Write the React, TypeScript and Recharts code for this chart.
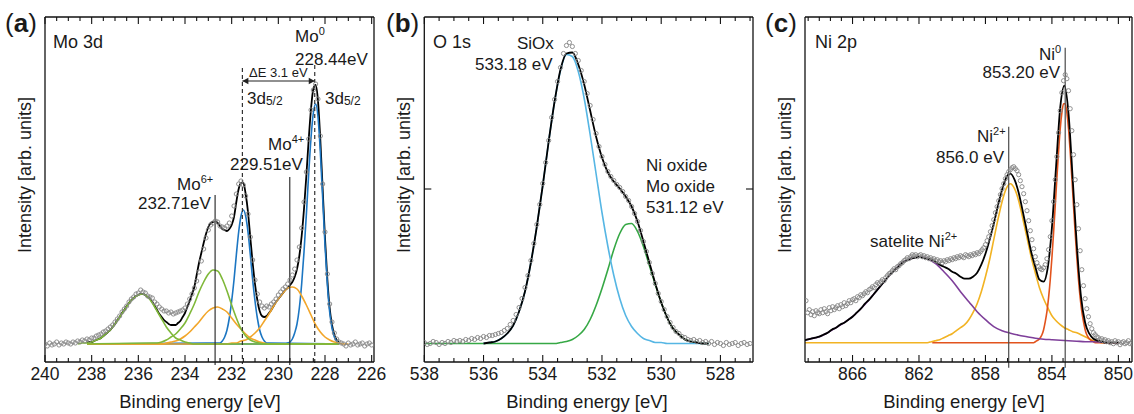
import React from "react";
import { ComposedChart, Line, Scatter, XAxis, YAxis, ReferenceLine } from "recharts";

const FONT = '"Liberation Sans", Arial, Helvetica, sans-serif';
const INK = "#1a1a1a";
const AXIS = "#111";
const DOT = "#858585";

type Pt = { e: number; v: number };

// values sampled from `start` downwards every `step` eV; `span` pads the flat baseline
const series = (start: number, step: number, values: number[], span?: [number, number]): Pt[] => {
  const pts = values.map((v, i) => ({ e: Math.round((start - i * step) * 1000) / 1000, v }));
  if (span) {
    if (span[0] > pts[0].e) pts.unshift({ e: span[0], v: 0 });
    if (span[1] < pts[pts.length - 1].e) pts.push({ e: span[1], v: 0 });
  }
  return pts;
};

// ---------- (a) Mo 3d ----------
const moTicks = [240, 239.5, 239, 238.5, 238, 237.5, 237, 236.5, 236, 235.5, 235, 234.5, 234, 233.5, 233, 232.5, 232, 231.5, 231, 230.5, 230, 229.5, 229, 228.5, 228, 227.5, 227, 226.5, 226];
const moMajors = [240, 238, 236, 234, 232, 230, 228, 226];
const moSpan: [number, number] = [238.2, 227.4];
const moMeasured = [
  0, -2, 1, -1, 0, 2, -1, 1, 0, 2,
  1, 0, 2, 1, 3, 2, 4, 3, 5, 4,
  6, 6, 8, 9, 10, 12, 13, 15, 17, 19,
  22, 25, 28, 32, 35, 38, 42, 45, 47, 50,
  51, 54, 52, 51, 48, 47, 46, 42, 40, 37,
  35, 33, 33, 31, 32, 30, 31, 32, 33, 34,
  36, 40, 45, 50, 56, 63, 72, 83, 95, 106,
  114, 119, 121, 123, 122, 118, 117, 116, 118, 121,
  128, 138, 150, 160, 163, 159, 148, 130, 107, 84,
  64, 50, 42, 38, 36, 38, 37, 40, 42, 45,
  49, 52, 55, 57, 60, 64, 69, 75, 84, 97,
  116, 142, 172, 205, 234, 254, 260, 245, 208, 160,
  112, 70, 40, 22, 11, 5, 2, 1, 0, -2,
  1, -1, 0, 2, -1, 0, 1, -2, 0, 1, -1,
];
const moEnvelope = [
  1, 2, 2, 3, 4, 5, 6, 8, 10, 12, 14, 17, 20, 24, 27, 31, 34, 38, 41, 44,
  46, 48, 49, 50, 50, 49, 47, 45, 42, 38, 34, 30, 27, 24, 22, 20, 19, 19, 19, 21,
  23, 27, 31, 37, 43, 50, 57, 69, 81, 91, 101, 110, 117, 121, 122, 122, 121, 118, 115, 114,
  113, 115, 119, 127, 142, 155, 161, 161, 150, 132, 106, 81, 60, 44, 33, 28, 27, 28, 31, 34,
  38, 42, 45, 48, 51, 54, 56, 59, 62, 67, 75, 88, 108, 135, 168, 204, 235, 255, 259, 243,
  204, 155, 106, 65, 36, 19, 9, 4, 2,
];
const moVI_a = [0, 1, 1, 2, 4, 6, 10, 14, 20, 27, 34, 41, 46, 49, 50, 47, 41, 33, 25, 17, 11, 6, 4, 2, 1, 0];
const moVI_b = [1, 1, 2, 4, 7, 10, 15, 21, 30, 40, 52, 62, 70, 74, 73, 65, 53, 39, 26, 15, 8, 4, 2, 1, 0, 0];
const moIV_a = [0, 0, 0, 1, 2, 3, 5, 8, 12, 17, 22, 28, 33, 36, 37, 35, 32, 26, 20, 15, 10, 6, 4, 2, 1, 0, 0];
const moIV_b = [0, 1, 1, 3, 4, 7, 11, 16, 23, 30, 38, 45, 51, 56, 57, 55, 48, 39, 29, 19, 12, 7, 4, 2, 1, 0, 0];
const mo0_a = [1, 1, 3, 7, 14, 26, 43, 64, 89, 112, 128, 134, 128, 112, 89, 64, 43, 26, 14, 7, 3, 1, 1];
const mo0_b = [0, 1, 2, 5, 11, 20, 36, 60, 92, 129, 170, 206, 231, 240, 227, 192, 146, 99, 60, 32, 16, 7, 3, 1];

// ---------- (b) O 1s ----------
const oTicks = [538, 537.5, 537, 536.5, 536, 535.5, 535, 534.5, 534, 533.5, 533, 532.5, 532, 531.5, 531, 530.5, 530, 529.5, 529, 528.5, 528, 527.5, 527];
const oMajors = [538, 536, 534, 532, 530, 528];
const oMeasured = [
  1, -1, 0, 2, 1, -1, 1, 0, 2, 1,
  3, 2, 3, 2, 4, 3, 5, 4, 6, 5,
  7, 6, 8, 8, 9, 10, 11, 13, 15, 19,
  23, 29, 36, 45, 56, 68, 83, 100, 119, 139,
  160, 181, 203, 226, 244, 262, 276, 290, 298, 301,
  297, 290, 283, 273, 262, 250, 238, 224, 210, 197,
  187, 179, 172, 167, 163, 159, 156, 152, 147, 143,
  137, 130, 122, 113, 102, 92, 81, 70, 60, 50,
  42, 34, 27, 21, 16, 12, 10, 7, 6, 4,
  3, 4, 2, 3, 1, 2, 0, 2, -1, 1,
  0, -2, 1, -1, 0, 1, -2, 0, 1, -1, 0,
];
const oEnvelope = [0, 1, 2, 5, 10, 18, 32, 52, 81, 117, 158, 202, 242, 274, 290, 291, 279, 259, 233, 207, 186, 171, 162, 155, 147, 137, 122, 102, 81, 60, 41, 26, 15, 9, 4, 2, 1, 0, 0];
const oSiOx = [0, 1, 2, 5, 10, 18, 32, 52, 81, 117, 158, 202, 242, 273, 289, 287, 272, 245, 209, 170, 131, 97, 68, 45, 28, 17, 10, 5, 3, 1, 1, 0, 0];
const oMetalOxide = [0, 0, 1, 2, 4, 8, 14, 24, 38, 55, 74, 94, 110, 119, 120, 112, 97, 78, 59, 41, 26, 15, 9, 4, 2, 1, 0, 0];

// ---------- (c) Ni 2p ----------
const niTicks = [868.67, 868, 867.33, 866.67, 866, 865.33, 864.67, 864, 863.33, 862.67, 862, 861.33, 860.67, 860, 859.33, 858.67, 858, 857.33, 856.67, 856, 855.33, 854.67, 854, 853.33, 852.67, 852, 851.33, 850.67, 850, 849.33];
const niMajors = [866, 862, 858, 854, 850];
const niMeasured = [
  42, 30, 33, 28, 31, 27, 32, 30,
  29, 33, 30, 34, 31, 29, 35, 32, 36, 33,
  35, 37, 34, 38, 36, 40, 37, 39, 42, 40,
  43, 44, 42, 46, 45, 48, 47, 49, 51, 50,
  53, 54, 56, 55, 58, 60, 59, 61, 63, 62,
  65, 67, 69, 70, 72, 74, 73, 76, 77, 79,
  80, 82, 83, 85, 84, 86, 88, 87, 88, 86,
  87, 88, 86, 87, 85, 86, 84, 85, 83, 84,
  82, 83, 81, 82, 80, 82, 81, 83, 82, 84,
  83, 85, 84, 86, 85, 87, 86, 85, 88, 87,
  86, 88, 87, 89, 88, 90, 89, 91, 93, 95,
  98, 102, 106, 111, 117, 123, 130, 136, 142, 148,
  154, 159, 164, 168, 171, 173, 175, 176, 174, 172,
  168, 162, 156, 149, 141, 132, 122, 112, 103, 94,
  86, 80, 76, 74, 73, 75, 78, 84, 93, 106,
  122, 141, 163, 186, 210, 232, 250, 262, 268, 264,
  252, 234, 212, 188, 163, 138, 114, 92, 73, 57,
  44, 34, 26, 19, 14, 10, 8, 6, 5, 3,
  4, 2, 3, 1, 2, 0, 1, -1, 2, 0,
  1, -2, 0, 1, -1, 0, 2, -1, 0,
];
const niEnvelope = [
  2, 3, 4, 5, 6, 8, 10, 13, 15, 18, 20, 23, 26, 30, 34, 39, 43, 48, 53, 58,
  63, 68, 72, 76, 80, 82, 84, 85, 86, 85, 84, 83, 81, 78, 76, 74, 71, 69, 66, 64,
  64, 66, 70, 78, 89, 103, 119, 137, 153, 165, 169, 163, 150, 131, 111, 91, 76, 63, 61, 75,
  115, 176, 235, 257, 229, 164, 97, 46, 20, 9, 4, 2, 1, 0, 0, 0, 0,
];
const niII = [0, 1, 2, 3, 5, 7, 9, 12, 15, 18, 23, 30, 39, 51, 66, 83, 103, 123, 141, 154, 159, 154, 142, 124, 105, 86, 70, 55, 44, 35, 27, 22, 18, 15, 13, 11, 10, 8, 6, 4, 2, 1, 0];
const ni0 = [0, 0, 0, 1, 2, 3, 5, 8, 13, 21, 31, 45, 63, 85, 110, 137, 165, 191, 214, 230, 239, 239, 230, 214, 191, 165, 137, 110, 85, 63, 45, 31, 21, 13, 8, 5, 3, 2, 1, 0, 0, 0];
const niSatellite = [2, 4, 6, 10, 15, 20, 26, 34, 43, 53, 63, 72, 80, 84, 86, 84, 79, 71, 62, 51, 41, 31, 23, 16, 12, 9.5, 7.5, 6, 4.5, 3.5, 3, 2.5, 2, 1.5, 1, 1, 0.5, 0, 0];

type Curve = { pts: Pt[]; color: string; width?: number };
type PanelProps = {
  left: number;
  width: number;
  plotLeft: number; // px from the panel's left edge to the frame
  plotRight: number; // px from the frame to the panel's right edge
  xDomain: [number, number];
  yDomain: [number, number];
  ticks: number[];
  majors: number[];
  yTicks?: number[];
  points: Pt[];
  curves: Curve[];
  children?: React.ReactNode;
};

const isMajor = (v: number, majors: number[]) => majors.some((m) => Math.abs(m - v) < 1e-6);

const bottomTick = (majors: number[]) => (p: any) => {
  const v = p.payload.value;
  const major = isMajor(v, majors);
  return (
    <g>
      <line x1={p.x} x2={p.x} y1={p.y} y2={p.y - (major ? 7 : 4)} stroke={AXIS} strokeWidth={1.1} />
      {major ? (
        <text x={p.x} y={p.y + 18} textAnchor="middle" fontSize={17.5} fontFamily={FONT} fill={INK}>
          {v}
        </text>
      ) : null}
    </g>
  );
};

const topTick = (majors: number[]) => (p: any) => {
  const major = isMajor(p.payload.value, majors);
  return <line x1={p.x} x2={p.x} y1={p.y} y2={p.y + (major ? 7 : 4)} stroke={AXIS} strokeWidth={1.1} />;
};

const leftTick = (p: any) => <line x1={p.x} x2={p.x + 7} y1={p.y} y2={p.y} stroke={AXIS} strokeWidth={1.1} />;
const rightTick = (p: any) => <line x1={p.x} x2={p.x - 7} y1={p.y} y2={p.y} stroke={AXIS} strokeWidth={1.1} />;
const noTick = () => <g />;

const ring = (p: any) => <circle cx={p.cx} cy={p.cy} r={2.1} fill="none" stroke={DOT} strokeWidth={0.9} />;

const frame = { stroke: AXIS, strokeWidth: 1.3 };

function Spectrum(p: PanelProps) {
  // axes are 1px thick so that they still render; margins compensate
  const common = {
    dataKey: "e",
    type: "number" as const,
    domain: p.xDomain,
    reversed: true,
    allowDataOverflow: true,
    ticks: p.ticks,
    interval: 0,
    height: 1,
    tickSize: 0,
    tickMargin: 0,
    tickLine: false,
    axisLine: frame,
  };
  const yCommon = {
    type: "number" as const,
    domain: p.yDomain,
    allowDataOverflow: true,
    width: 1,
    tickSize: 0,
    tickMargin: 0,
    tickLine: false,
    axisLine: frame,
    ticks: p.yTicks ?? [p.yDomain[0]],
    interval: 0,
  };
  return (
    <div style={{ position: "absolute", left: p.left, top: 0 }}>
      <ComposedChart
        width={p.width}
        height={414}
        margin={{ top: 16, bottom: 51, left: p.plotLeft - 1, right: p.plotRight - 1 }}
      >
        <XAxis {...common} tick={bottomTick(p.majors)} />
        <XAxis {...common} xAxisId="top" orientation="top" tick={topTick(p.majors)} />
        <YAxis {...yCommon} tick={p.yTicks ? leftTick : noTick} />
        <YAxis {...yCommon} yAxisId="right" orientation="right" tick={p.yTicks ? rightTick : noTick} />
        <Scatter data={p.points} dataKey="v" shape={ring} isAnimationActive={false} />
        {p.curves.map((c, i) => (
          <Line
            key={i}
            data={c.pts}
            dataKey="v"
            type="monotone"
            stroke={c.color}
            strokeWidth={c.width ?? 1.6}
            dot={false}
            activeDot={false}
            isAnimationActive={false}
          />
        ))}
        {p.children}
      </ComposedChart>
    </div>
  );
}

const arrowShape = (p: any) => {
  const { x1, y1, x2, y2 } = p;
  return (
    <g>
      <line x1={x1} y1={y1} x2={x2} y2={y2} stroke="#222" strokeWidth={1.2} />
      <path d={`M${x1},${y1} l6,-3.2 v6.4 z`} fill="#222" />
      <path d={`M${x2},${y2} l-6,-3.2 v6.4 z`} fill="#222" />
    </g>
  );
};

const vLine = (x: number, top: number, bottom: number, dashed = false, color = "#333") => (
  <ReferenceLine
    key={`${x}-${top}`}
    segment={[
      { x, y: top },
      { x, y: bottom },
    ]}
    stroke={color}
    strokeWidth={1.2}
    strokeDasharray={dashed ? "4 3" : undefined}
    ifOverflow="visible"
  />
);

const txt = { fontFamily: FONT, fill: INK };

export default function App() {
  return (
    <div style={{ position: "absolute", left: 0, top: 0, width: 1134, height: 414, background: "#fff", overflow: "hidden" }}>
      {/* let edge tick labels (e.g. 226) spill past a panel's own svg */}
      <style>{".recharts-surface{overflow:visible}"}</style>
      <Spectrum
        left={0}
        width={380}
        plotLeft={45}
        plotRight={6}
        xDomain={[225.9, 240]}
        yDomain={[-18, 327]}
        ticks={moTicks}
        majors={moMajors}
        points={series(240, 0.1, moMeasured)}
        curves={[
          { pts: series(238.2, 0.1, moEnvelope), color: "#000", width: 1.8 },
          { pts: series(232.6, 0.1, mo0_a, moSpan), color: "#1c76c2" },
          { pts: series(229.7, 0.1, mo0_b, moSpan), color: "#1c76c2" },
          { pts: series(235.4, 0.2, moIV_a, moSpan), color: "#f2a62a" },
          { pts: series(232.2, 0.2, moIV_b, moSpan), color: "#f2a62a" },
          { pts: series(238.6, 0.2, moVI_a, moSpan), color: "#7fb839" },
          { pts: series(235.4, 0.2, moVI_b, moSpan), color: "#7fb839" },
        ]}
      >
        {vLine(231.54, 276, -20, true)}
        {vLine(228.44, 279, -20, true)}
        {vLine(232.71, 149, -21)}
        {vLine(229.51, 167, -21)}
        <ReferenceLine
          segment={[
            { x: 231.54, y: 263 },
            { x: 228.44, y: 263 },
          ]}
          shape={arrowShape}
          ifOverflow="visible"
        />
      </Spectrum>

      <Spectrum
        left={380}
        width={380}
        plotLeft={44.3}
        plotRight={7}
        xDomain={[526.9, 538]}
        yDomain={[-18.5, 326.5]}
        ticks={oTicks}
        majors={oMajors}
        yTicks={[154.5]}
        points={series(538, 0.1, oMeasured)}
        curves={[
          { pts: series(533.8, 0.2, oMetalOxide, [538, 528.4]), color: "#36a845" },
          { pts: series(536, 0.2, oSiOx, [536, 528.4]), color: "#56b6e4" },
          { pts: series(536, 0.2, oEnvelope), color: "#000", width: 1.8 },
        ]}
      />

      <Spectrum
        left={760}
        width={374}
        plotLeft={45}
        plotRight={2}
        xDomain={[849.18, 868.86]}
        yDomain={[-19.3, 325.7]}
        ticks={niTicks}
        majors={niMajors}
        points={series(868.8, 0.1, niMeasured)}
        curves={[
          { pts: series(861.5, 0.25, niII, [869, 850]), color: "#f2b323" },
          { pts: series(855.3, 0.1, ni0, [861.2, 850]), color: "#e2531d" },
          { pts: series(869, 0.5, niSatellite), color: "#7e3f9a" },
          { pts: series(869, 0.25, niEnvelope), color: "#000", width: 1.8 },
        ]}
      >
        {vLine(853.2, 295, -25, false, "#4a4a4a")}
        {vLine(856.6, 216, -25, false, "#4a4a4a")}
      </Spectrum>

      <svg width={1134} height={414} style={{ position: "absolute", left: 0, top: 0, pointerEvents: "none" }}>
        {/* panel (a) */}
        <text x={5} y={31.5} fontSize={26} {...txt}>
          (<tspan fontWeight="bold">a</tspan>)
        </text>
        <text x={53} y={48} fontSize={18} {...txt}>Mo 3d</text>
        <text x={295} y={42} fontSize={17} {...txt}>
          Mo<tspan fontSize={11} dy={-7}>0</tspan>
        </text>
        <text x={295} y={65} fontSize={17} {...txt}>228.44eV</text>
        <text x={249} y={77} fontSize={13} {...txt}>ΔE 3.1 eV</text>
        <text x={247} y={104} fontSize={17} {...txt}>
          3d<tspan fontSize={12} dy={1}>5/2</tspan>
        </text>
        <text x={325} y={104} fontSize={17} {...txt}>
          3d<tspan fontSize={12} dy={1}>5/2</tspan>
        </text>
        <text x={268} y={150} fontSize={17} {...txt}>
          Mo<tspan fontSize={11} dy={-7}>4+</tspan>
        </text>
        <text x={230} y={170} fontSize={17} {...txt}>229.51eV</text>
        <text x={177} y={190} fontSize={17} {...txt}>
          Mo<tspan fontSize={11} dy={-7}>6+</tspan>
        </text>
        <text x={138} y={209} fontSize={17} {...txt}>232.71eV</text>
        <text transform="translate(31,175) rotate(-90)" textAnchor="middle" fontSize={18} {...txt}>
          Intensity [arb. units]
        </text>
        <text x={200} y={408} textAnchor="middle" fontSize={18.5} {...txt}>Binding energy [eV]</text>

        {/* panel (b) */}
        <text x={386} y={31.5} fontSize={26} {...txt}>
          (<tspan fontWeight="bold">b</tspan>)
        </text>
        <text x={433} y={48} fontSize={18} {...txt}>O 1s</text>
        <text x={517} y={49} fontSize={17} {...txt}>SiOx</text>
        <text x={475} y={70} fontSize={17} {...txt}>533.18 eV</text>
        <text x={646} y={171} fontSize={17} {...txt}>Ni oxide</text>
        <text x={646} y={192} fontSize={17} {...txt}>Mo oxide</text>
        <text x={646} y={213} fontSize={17} {...txt}>531.12 eV</text>
        <text transform="translate(410,175) rotate(-90)" textAnchor="middle" fontSize={18} {...txt}>
          Intensity [arb. units]
        </text>
        <text x={587} y={408} textAnchor="middle" fontSize={18.5} {...txt}>Binding energy [eV]</text>

        {/* panel (c) */}
        <text x={765} y={31.5} fontSize={26} {...txt}>
          (<tspan fontWeight="bold">c</tspan>)
        </text>
        <text x={815} y={48} fontSize={18} {...txt}>Ni 2p</text>
        <text x={1039} y={60} fontSize={17} {...txt}>
          Ni<tspan fontSize={11} dy={-7}>0</tspan>
        </text>
        <text x={1060} y={78} textAnchor="end" fontSize={17} {...txt}>853.20 eV</text>
        <text x={977} y={142} fontSize={17} {...txt}>
          Ni<tspan fontSize={11} dy={-7}>2+</tspan>
        </text>
        <text x={1004} y={163} textAnchor="end" fontSize={17} {...txt}>856.0 eV</text>
        <text x={870} y={247} fontSize={17} {...txt}>
          satelite Ni<tspan fontSize={11} dy={-7}>2+</tspan>
        </text>
        <text transform="translate(791,175) rotate(-90)" textAnchor="middle" fontSize={18} {...txt}>
          Intensity [arb. units]
        </text>
        <text x={964} y={408} textAnchor="middle" fontSize={18.5} {...txt}>Binding energy [eV]</text>
      </svg>
    </div>
  );
}
